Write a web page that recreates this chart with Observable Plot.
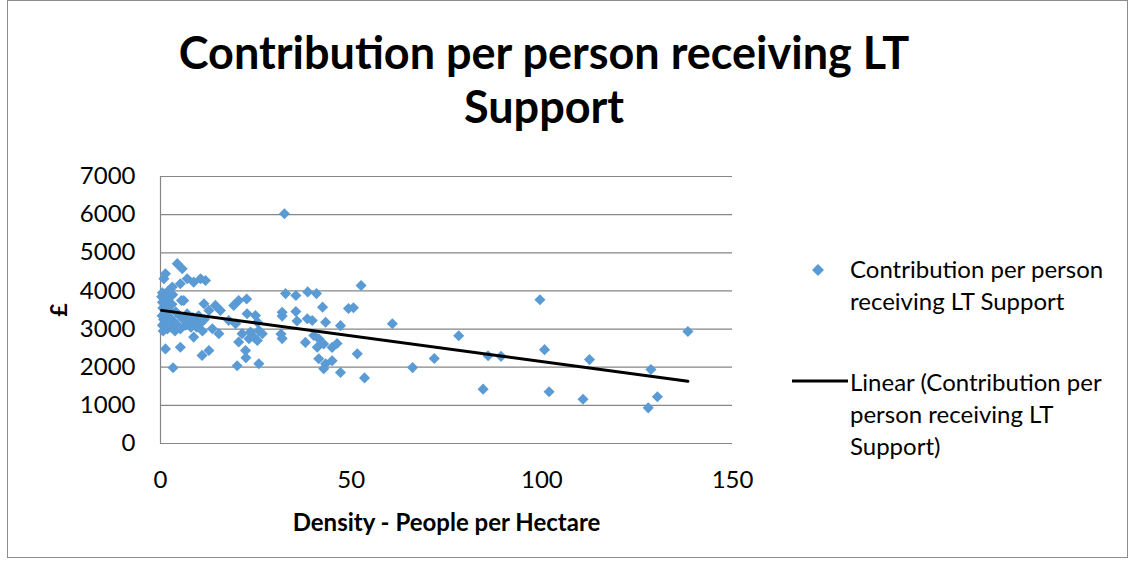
<!DOCTYPE html>
<html>
<head>
<meta charset="utf-8">
<script src="https://cdn.jsdelivr.net/npm/d3@7"></script>
<script src="https://cdn.jsdelivr.net/npm/@observablehq/plot@0.6"></script>
<style>
  body { margin: 0; background: #fff; font-family: Lato, "Open Sans", sans-serif; }
  #chart { position: relative; width: 1130px; height: 562px; overflow: hidden; background: #fff; }
  #frame { position: absolute; left: 7px; top: 0; width: 1121px; height: 558px; border: 1px solid #8c8c8c; box-sizing: border-box; }
  #title { position: absolute; left: 0; width: 1088px; top: 25px; text-align: center; font-weight: bold; font-size: 45px; line-height: 54px; color: #000; }
  #plot { position: absolute; left: 0; top: 150px; }
  .leg { position: absolute; font-size: 24px; line-height: 32px; color: #000; }
  .legtext { position: absolute; left: 850px; white-space: nowrap; }
  g[aria-label="y-axis label"] text { font-weight: bold; font-size: 23px; }
  g[aria-label="x-axis label"] text { font-weight: bold; font-size: 24px; }
</style>
</head>
<body>
<div id="chart">
  <div id="frame"></div>
  <div id="title">Contribution per person receiving LT<br>Support</div>
  <div id="plot"></div>
  <svg style="position:absolute;left:811px;top:263px" width="14" height="14"><path d="M7,1L13,7L7,13L1,7Z" fill="#5B9BD5"/></svg>
  <div class="leg legtext" style="top:253px">Contribution per person<br>receiving LT Support</div>
  <svg style="position:absolute;left:790px;top:376px" width="60" height="10"><line x1="2" x2="58" y1="5" y2="5" stroke="#000" stroke-width="3"/></svg>
  <div class="leg legtext" style="top:366px">Linear (Contribution per<br>person receiving LT<br>Support)</div>
</div>
<script>
// Density - People per Hectare
const density = [
  // high-density authorities
  60.8, 66.1, 71.8, 78.2, 84.6, 85.9, 89.3, 99.5, 100.7, 101.9, 110.8, 112.5, 127.9, 128.6, 130.3, 138.3,
  // 30-55
  32.5, 52.6, 32.8, 35.5, 38.6, 40.9, 42.5, 49.3, 50.6, 31.9, 35.5, 31.9, 38.5, 39.8, 35.8, 43.3, 47.2,
  31.6, 31.9, 38.0, 40.2, 41.5, 42.8, 46.3, 45.0, 41.1, 41.5, 43.3, 45.0, 42.8, 47.2, 51.6, 53.5,
  // 12-30
  20.5, 22.6, 19.2, 14.4, 12.7, 15.7, 22.7, 24.9, 17.9, 19.7, 25.8, 23.6, 21.4, 15.3, 13.6, 20.5,
  23.2, 25.4, 22.3, 12.7, 20.1, 25.8, 22.4, 26.7, 25.4, 24.5, 11.4,
  // 0-12
  0.9, 1.3, 4.4, 5.7, 7.0, 10.5, 11.8, 5.2, 3.1, 8.7, 6.1, 2.0, 0.5,
  0.3, 0.5, 0.6, 0.4, 0.8, 0.5, 0.7, 1.0, 1.2, 1.5, 1.1, 1.8, 2.0, 2.2, 2.5, 2.8, 3.0, 3.2, 3.5, 3.8,
  4.0, 4.5, 5.0, 5.2, 5.5, 6.0, 6.5, 7.0, 7.5, 8.0, 8.5, 9.0, 9.5, 10.0, 10.5, 11.0, 11.5,
  1.3, 5.2, 8.7, 10.9, 3.3
];
// Contribution per person receiving LT Support (£)
const contribution = [
  3140, 1990, 2230, 2825, 1425, 2300, 2285, 3770, 2460, 1355, 1160, 2200, 935, 1940, 1225, 2935,
  6025, 4143, 3930, 3880, 3975, 3930, 3575, 3540, 3560, 3440, 3460, 3340, 3270, 3225, 3210, 3180, 3090,
  2870, 2750, 2650, 2830, 2745, 2610, 2620, 2520, 2525, 2220, 2090, 2170, 1960, 1860, 2350, 1720,
  3750, 3790, 3620, 3620, 3490, 3490, 3400, 3356, 3225, 3140, 2960, 2920, 2880, 2880, 3010, 2660,
  2745, 2700, 2440, 2440, 2040, 2090, 2250, 2876, 3181, 2788, 3663,
  4320, 4450, 4715, 4580, 4320, 4320, 4275, 4190, 4100, 4230, 3750, 4000, 3950,
  3850, 3700, 3550, 3350, 3250, 3100, 2950, 3900, 3600, 3400, 3150, 3000, 3800, 3500, 3300, 3050, 3650, 3900, 3200, 2950,
  3450, 3100, 3350, 3000, 3750, 3250, 3100, 3400, 3150, 3050, 3300, 3200, 3050, 3350, 3150, 2950, 3250,
  2480, 2525, 2790, 2310, 1985
];
const xTicks = [0, 50, 100, 150];
const yTicks = [0, 1000, 2000, 3000, 4000, 5000, 6000, 7000];

const data = density.map((d, i) => ({density: d, contribution: contribution[i]}));

const chart = Plot.plot({
  width: 760,
  height: 400,
  marginLeft: 160,
  marginRight: 28,
  marginTop: 26,
  marginBottom: 107,
  style: {fontFamily: "Lato, 'Open Sans', sans-serif", fontSize: "24px", color: "#000", background: "transparent", overflow: "visible"},
  x: {domain: [0, 150]},
  y: {domain: [0, 7000]},
  marks: [
    Plot.gridY(yTicks, {stroke: "#868686", strokeOpacity: 1, strokeWidth: 1.2}),
    Plot.ruleX([0], {stroke: "#868686", strokeWidth: 1.2}),
    Plot.axisY(yTicks, {tickSize: 0, tickPadding: 25, tickFormat: d3.format("d"), label: "£", labelAnchor: "center", labelArrow: false, labelOffset: 110}),
    Plot.axisX(xTicks, {tickSize: 0, tickPadding: 27, tickFormat: d3.format("d"), label: "Density - People per Hectare", labelAnchor: "center", labelArrow: false, labelOffset: 87}),
    Plot.dot(data, {x: "density", y: "contribution", symbol: "diamond2", r: 5, fill: "#5B9BD5", stroke: null}),
    Plot.linearRegressionY(data, {x: "density", y: "contribution", stroke: "#000", strokeWidth: 3, ci: 0})
  ]
});
document.getElementById("plot").appendChild(chart);
</script>
</body>
</html>
